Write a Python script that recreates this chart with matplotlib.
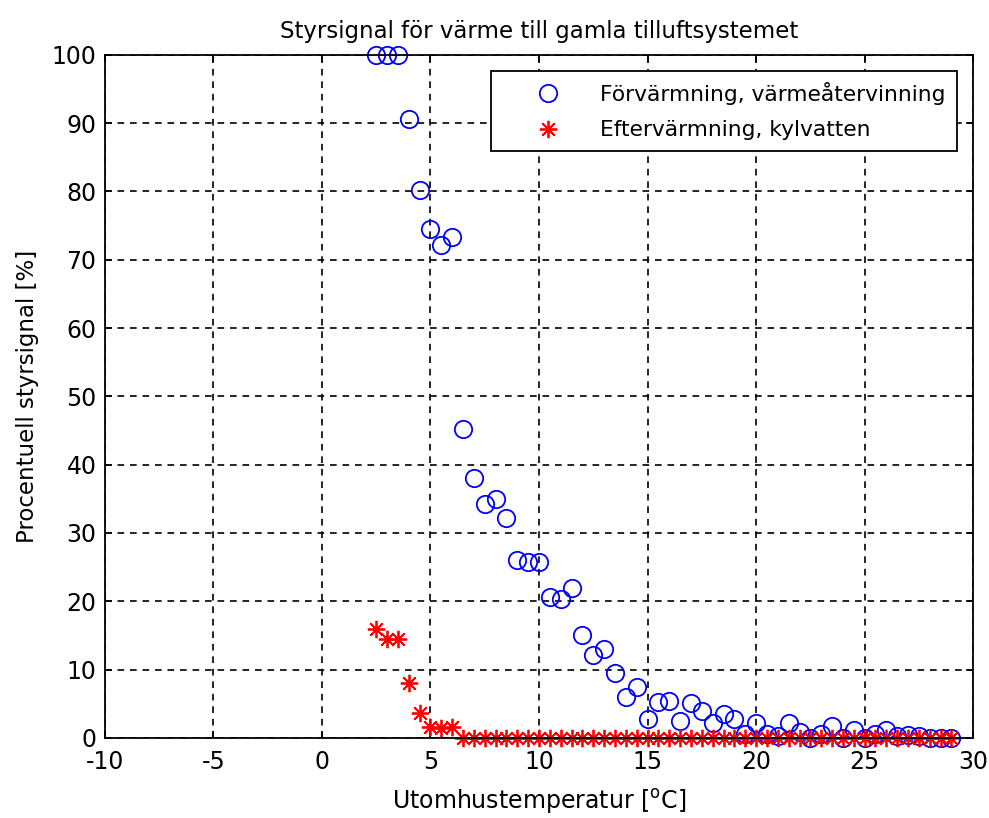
import matplotlib
matplotlib.use("Agg")
import matplotlib.pyplot as plt
import numpy as np

plt.rcParams['axes.unicode_minus'] = False

# utomhustemperatur [C]
temp = [2.5, 3, 3.5, 4, 4.5, 5, 5.5, 6, 6.5, 7, 7.5, 8, 8.5, 9, 9.5, 10,
        10.5, 11, 11.5, 12, 12.5, 13, 13.5, 14, 14.5, 15, 15.5, 16, 16.5, 17,
        17.5, 18, 18.5, 19, 19.5, 20, 20.5, 21, 21.5, 22, 22.5, 23, 23.5, 24,
        24.5, 25, 25.5, 26, 26.5, 27, 27.5, 28, 28.5, 29]

# forvarmning, varmeatervinning [%]
forvarm = [100, 100, 100, 90.6, 80.2, 74.5, 72.1, 73.3, 45.2, 38.1, 34.3, 35.0,
           32.2, 26.1, 25.8, 25.8, 20.6, 20.3, 22.0, 15.1, 12.2, 13.0, 9.5, 6.0,
           7.4, 2.7, 5.2, 5.4, 2.5, 5.1, 3.9, 2.2, 3.5, 2.8, 0.5, 2.2, 0.6, 0.3,
           2.2, 0.8, 0.0, 0.6, 1.7, 0.0, 1.2, 0.0, 0.6, 1.2, 0.2, 0.4, 0.2, 0.0,
           0.0, 0.0]

# eftervarmning, kylvatten [%]
eftervarm = [15.9, 14.4, 14.4, 8.0, 3.6, 1.6, 1.4, 1.6] + [0.0] * 46

fig = plt.figure(figsize=(9.89, 8.18), dpi=100)
ax = fig.add_axes([0.106, 0.098, 0.878, 0.835])

ax.plot(temp, forvarm, 'o', color='blue', markerfacecolor='none',
        markersize=12.5, markeredgewidth=1.3, clip_on=False,
        label='Förvärmning, värmeåtervinning')
ax.plot(temp, eftervarm, linestyle='none', marker=(8, 2, 0), color='red',
        markersize=12.5, markeredgewidth=1.3, clip_on=False,
        label='Eftervärmning, kylvatten')

ax.set_xlim(-10, 30)
ax.set_ylim(0, 100)
ax.set_xticks(np.arange(-10, 31, 5))
ax.set_yticks(np.arange(0, 101, 10))
ax.grid(True, color='black', linestyle=(0, (4, 3.5)), linewidth=1.2)
ax.tick_params(direction='in', top=True, right=True, labelsize=17, length=5,
               width=1.2)
ax.tick_params(axis='x', pad=9)
ax.tick_params(axis='y', pad=6)
for s in ax.spines.values():
    s.set_linewidth(1.3)

ax.set_title('Styrsignal för värme till gamla tilluftsystemet', fontsize=16.5,
             pad=12)
ax.set_xlabel('Utomhustemperatur [$^{\\rm o}$C]', fontsize=17, labelpad=9)
ax.set_ylabel('Procentuell styrsignal [%]', fontsize=16.5, labelpad=9)

leg = ax.legend(loc='upper right', fontsize=15.7, fancybox=False, framealpha=1,
                edgecolor='black', borderaxespad=0.75, borderpad=0.5,
                labelspacing=0.7, handlelength=4.2, handletextpad=0.3)
leg.get_frame().set_linewidth(1.3)

fig.savefig('out.png', dpi=100)
